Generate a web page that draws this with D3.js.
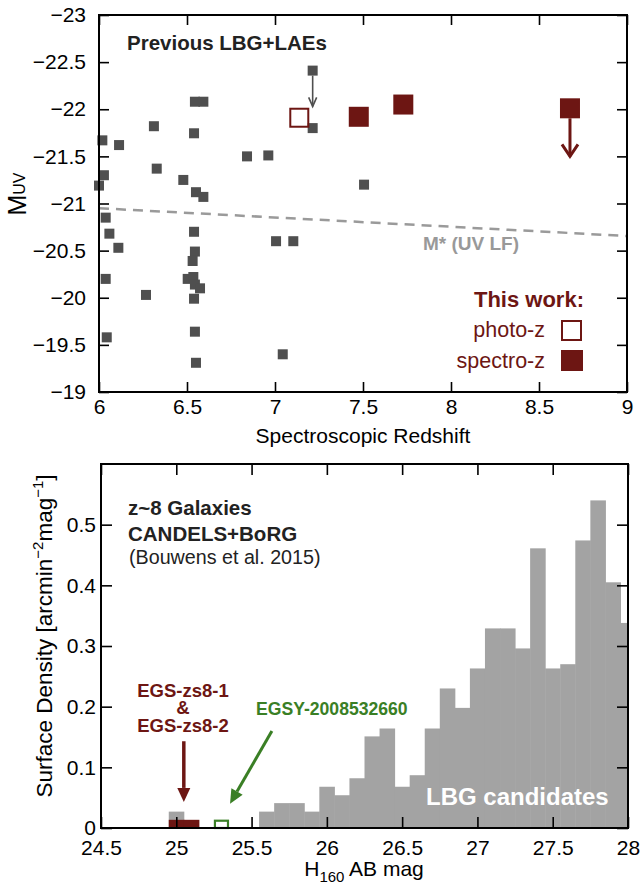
<!DOCTYPE html>
<html>
<head>
<meta charset="utf-8">
<script src="https://cdn.jsdelivr.net/npm/d3@7"></script>
<style>
  body { margin: 0; background: #fff; }
  svg text { font-family: "Liberation Sans", Arial, Helvetica, sans-serif; }
</style>
</head>
<body>
<svg id="chart" width="641" height="886"></svg>
<script>
// ---- top panel data: previous LBG + LAEs
var prevZ = [6.545, 6.593, 7.214, 6.312, 6.540, 6.019, 6.114, 6.841, 6.962, 6.328,
             6.028, 6.479, 6.000, 6.551, 6.593, 7.506, 6.038, 6.059, 6.110, 6.038,
             6.044, 6.267, 6.540, 6.545, 6.532, 6.504, 6.536, 6.545, 6.574, 6.540,
             6.545, 6.551, 7.006, 7.104, 7.044, 7.214];
var prevM = [-22.08, -22.08, -21.80, -21.82, -21.745, -21.67, -21.62, -21.50, -21.51, -21.37,
             -21.30, -21.25, -21.19, -21.12, -21.07, -21.20, -20.85, -20.68, -20.53, -20.20,
             -19.58, -20.03, -20.70, -20.49, -20.39, -20.20, -20.22, -20.14, -20.10, -19.99,
             -19.64, -19.31, -20.60, -20.60, -19.40, -22.41];
// upper limit (arrow) for previous object
var prevLimZ = [7.214], prevLimFrom = [-22.41], prevLimTo = [-22.03];

// this work
var photoZ = [7.138], photoM = [-21.91];
var specZ = [7.476, 7.729, 8.676], specM = [-21.92, -22.05, -22.01];
var specLimZ = [8.676], specLimFrom = [-22.01], specLimTo = [-21.50];

// characteristic magnitude of UV LF
var mStarZ = [6, 9], mStarM = [-20.95, -20.655];

var topXTicks = [6, 6.5, 7, 7.5, 8, 8.5, 9];
var topYTicks = [-23, -22.5, -22, -21.5, -21, -20.5, -20, -19.5, -19];

// ---- bottom panel data: z~8 surface density histogram (bin centres, 0.1 mag)
var histMag = [25.0, 25.6, 25.7, 25.8, 25.9, 26.0, 26.1, 26.2, 26.3, 26.4, 26.5, 26.6, 26.7,
               26.8, 26.9, 27.0, 27.1, 27.2, 27.3, 27.4, 27.5, 27.6, 27.7, 27.8, 27.9, 28.0];
var histDens = [0.027, 0.027, 0.041, 0.041, 0.027, 0.068, 0.054, 0.082, 0.151, 0.164, 0.068, 0.087, 0.164,
                0.230, 0.198, 0.263, 0.329, 0.329, 0.296, 0.461, 0.263, 0.270, 0.474, 0.540, 0.405, 0.338];
var egsMag = [25.0, 25.1], egsDens = [0.0135, 0.0135];
var egsyMag = [25.3], egsyDens = [0.012];
var binW = 0.1;

var botXTicks = [24.5, 25, 25.5, 26, 26.5, 27, 27.5, 28];
var botYTicks = [0, 0.1, 0.2, 0.3, 0.4, 0.5];

var red = "#6d1613", green = "#3a7f25", gray = "#4f4f4f", histGray = "#a3a3a3";
var svg = d3.select("#chart");

function fmtMinus(d) { return (d < 0 ? "\u2212" : "") + Math.abs(d); }

// arrow: shaft + head, in pixel coords
function arrow(g, xa, ya, xb, yb, color, w, hl, hw, filled) {
    var a = Math.atan2(yb - ya, xb - xa);
    var bx = xb - hl * Math.cos(a), by = yb - hl * Math.sin(a);
    var px = -Math.sin(a) * hw, py = Math.cos(a) * hw;
    g.append("line").attr("x1", xa).attr("y1", ya)
        .attr("x2", filled ? bx : xb).attr("y2", filled ? by : yb)
        .attr("stroke", color).attr("stroke-width", w);
    if (filled) {
        g.append("path")
            .attr("d", "M" + xb + "," + yb + "L" + (bx + px) + "," + (by + py) + "L" + (bx - px) + "," + (by - py) + "Z")
            .attr("fill", color);
    } else {
        g.append("path")
            .attr("d", "M" + (bx + px) + "," + (by + py) + "L" + xb + "," + yb + "L" + (bx - px) + "," + (by - py))
            .attr("fill", "none").attr("stroke", color).attr("stroke-width", w);
    }
}

function inAxis(g, axis, tr) { return g.append("g").attr("transform", tr).call(axis); }

// ================= TOP PANEL =================
var xTop = d3.scaleLinear().domain([6, 9]).range([99, 627]);
var yTop = d3.scaleLinear().domain([-23, -19]).range([15, 392]);
var topG = svg.append("g");

// M* dashed line
topG.append("path")
    .attr("d", d3.line().x(function(d) { return xTop(d[0]); }).y(function(d) { return yTop(d[1]); })(d3.zip(mStarZ, mStarM)))
    .attr("fill", "none").attr("stroke", "#9a9a9a").attr("stroke-width", 2.5)
    .attr("stroke-dasharray", "10,7");
topG.append("text").attr("x", 423).attr("y", 250)
    .attr("font-size", 19).attr("font-weight", "bold").attr("fill", "#999")
    .text("M* (UV LF)");

// previous objects
var gs = 10;
topG.selectAll("rect.prev").data(d3.zip(prevZ, prevM)).enter().append("rect")
    .attr("x", function(d) { return xTop(d[0]) - gs / 2; })
    .attr("y", function(d) { return yTop(d[1]) - gs / 2; })
    .attr("width", gs).attr("height", gs).attr("fill", gray);
prevLimZ.forEach(function(z, i) {
    arrow(topG, xTop(z), yTop(prevLimFrom[i]) + gs / 2, xTop(z), yTop(prevLimTo[i]), gray, 1.6, 9, 4, false);
});

// this work
var rs = 20;
topG.selectAll("rect.photo").data(d3.zip(photoZ, photoM)).enter().append("rect")
    .attr("x", function(d) { return xTop(d[0]) - 9; })
    .attr("y", function(d) { return yTop(d[1]) - 9; })
    .attr("width", 18).attr("height", 18)
    .attr("fill", "none").attr("stroke", red).attr("stroke-width", 2);
topG.selectAll("rect.spec").data(d3.zip(specZ, specM)).enter().append("rect")
    .attr("x", function(d) { return xTop(d[0]) - rs / 2; })
    .attr("y", function(d) { return yTop(d[1]) - rs / 2; })
    .attr("width", rs).attr("height", rs).attr("fill", red);
specLimZ.forEach(function(z, i) {
    arrow(topG, xTop(z), yTop(specLimFrom[i]) + rs / 2, xTop(z), yTop(specLimTo[i]), red, 3, 12, 8, false);
});

// axes (ticks inward)
inAxis(topG, d3.axisBottom(xTop).tickValues(topXTicks).tickSizeInner(-10).tickSizeOuter(0).tickPadding(7).tickFormat(d3.format("")), "translate(0,392)");
inAxis(topG, d3.axisTop(xTop).tickValues(topXTicks).tickSizeInner(-10).tickSizeOuter(0).tickFormat(""), "translate(0,15)");
inAxis(topG, d3.axisLeft(yTop).tickValues(topYTicks).tickSizeInner(-10).tickSizeOuter(0).tickPadding(13).tickFormat(fmtMinus), "translate(99,0)");
inAxis(topG, d3.axisRight(yTop).tickValues(topYTicks).tickSizeInner(-10).tickSizeOuter(0).tickFormat(""), "translate(627,0)");
topG.append("rect").attr("x", 99).attr("y", 15).attr("width", 528).attr("height", 377)
    .attr("fill", "none").attr("stroke", "#000").attr("stroke-width", 2);

topG.append("text").attr("x", 363).attr("y", 443).attr("text-anchor", "middle")
    .attr("font-size", 21).text("Spectroscopic Redshift");
var ml = topG.append("text").attr("transform", "translate(26,194) rotate(-90)")
    .attr("text-anchor", "middle").attr("font-size", 25);
ml.append("tspan").text("M");
ml.append("tspan").attr("font-size", 16).attr("dy", -1).text("UV");

topG.append("text").attr("x", 127).attr("y", 50).attr("font-size", 20.5)
    .attr("font-weight", "bold").attr("fill", "#222").text("Previous LBG+LAEs");

// legend
topG.append("text").attr("x", 584).attr("y", 307).attr("text-anchor", "end")
    .attr("font-size", 22).attr("font-weight", "bold").attr("fill", red).text("This work:");
topG.append("text").attr("x", 545).attr("y", 337).attr("text-anchor", "end")
    .attr("font-size", 21.5).attr("fill", red).text("photo-z");
topG.append("text").attr("x", 545).attr("y", 368).attr("text-anchor", "end")
    .attr("font-size", 21.5).attr("fill", red).text("spectro-z");
topG.append("rect").attr("x", 562).attr("y", 321).attr("width", 19).attr("height", 19)
    .attr("fill", "none").attr("stroke", red).attr("stroke-width", 2);
topG.append("rect").attr("x", 561).attr("y", 350).attr("width", 22).attr("height", 21).attr("fill", red);

// ================= BOTTOM PANEL =================
var xBot = d3.scaleLinear().domain([24.5, 28]).range([101, 628]);
var yBot = d3.scaleLinear().domain([0, 0.6]).range([828, 464]);
var botG = svg.append("g");

function binX0(m) { return xBot(Math.max(24.5, m - binW / 2)); }
function binX1(m) { return xBot(Math.min(28, m + binW / 2)); }

botG.selectAll("rect.hist").data(d3.zip(histMag, histDens)).enter().append("rect")
    .attr("x", function(d) { return binX0(d[0]); })
    .attr("y", function(d) { return yBot(d[1]); })
    .attr("width", function(d) { return binX1(d[0]) - binX0(d[0]) + 0.5; })
    .attr("height", function(d) { return yBot(0) - yBot(d[1]); })
    .attr("fill", histGray);
botG.selectAll("rect.egs").data(d3.zip(egsMag, egsDens)).enter().append("rect")
    .attr("x", function(d) { return binX0(d[0]); })
    .attr("y", function(d) { return yBot(d[1]); })
    .attr("width", function(d) { return binX1(d[0]) - binX0(d[0]) + 0.5; })
    .attr("height", function(d) { return yBot(0) - yBot(d[1]); })
    .attr("fill", red);
botG.selectAll("rect.egsy").data(d3.zip(egsyMag, egsyDens)).enter().append("rect")
    .attr("x", function(d) { return binX0(d[0]) + 1; })
    .attr("y", function(d) { return yBot(d[1]); })
    .attr("width", function(d) { return binX1(d[0]) - binX0(d[0]) - 2; })
    .attr("height", function(d) { return yBot(0) - yBot(d[1]); })
    .attr("fill", "none").attr("stroke", green).attr("stroke-width", 2.2);

inAxis(botG, d3.axisBottom(xBot).tickValues(botXTicks).tickSizeInner(-11).tickSizeOuter(0).tickPadding(12).tickFormat(d3.format("")), "translate(0,828)");
inAxis(botG, d3.axisTop(xBot).tickValues(botXTicks).tickSizeInner(-11).tickSizeOuter(0).tickFormat(""), "translate(0,464)");
inAxis(botG, d3.axisLeft(yBot).tickValues(botYTicks).tickSizeInner(-11).tickSizeOuter(0).tickPadding(5).tickFormat(d3.format("")), "translate(101,0)");
inAxis(botG, d3.axisRight(yBot).tickValues(botYTicks).tickSizeInner(-11).tickSizeOuter(0).tickFormat(""), "translate(628,0)");
botG.append("rect").attr("x", 101).attr("y", 464).attr("width", 527).attr("height", 364)
    .attr("fill", "none").attr("stroke", "#000").attr("stroke-width", 2);

// arrows to the EGS objects
arrow(botG, xBot(25.05), yBot(0.143), xBot(25.05), yBot(0.043), red, 3.5, 14, 6.5, true);
arrow(botG, xBot(25.635), yBot(0.160), xBot(25.357), yBot(0.040), green, 3, 14, 6.5, true);

botG.append("text").attr("x", 128).attr("y", 515).attr("font-size", 20.5)
    .attr("font-weight", "bold").attr("fill", "#222").text("z~8 Galaxies");
botG.append("text").attr("x", 128).attr("y", 541).attr("font-size", 20.5)
    .attr("font-weight", "bold").attr("fill", "#222").text("CANDELS+BoRG");
botG.append("text").attr("x", 129).attr("y", 564).attr("font-size", 19.7)
    .attr("fill", "#222").text("(Bouwens et al. 2015)");

[["EGS-zs8-1", 697], ["&", 714], ["EGS-zs8-2", 732]].forEach(function(t) {
    botG.append("text").attr("x", 183).attr("y", t[1]).attr("text-anchor", "middle")
        .attr("font-size", 18.5).attr("font-weight", "bold").attr("fill", red).text(t[0]);
});
botG.append("text").attr("x", 256).attr("y", 715).attr("font-size", 17.6)
    .attr("font-weight", "bold").attr("fill", green).text("EGSY-2008532660");
botG.append("text").attr("x", 426).attr("y", 805).attr("font-size", 24)
    .attr("font-weight", "bold").attr("fill", "#fff").text("LBG candidates");

var xl = botG.append("text").attr("x", 364).attr("y", 876).attr("text-anchor", "middle").attr("font-size", 21);
xl.append("tspan").text("H");
xl.append("tspan").attr("font-size", 15).attr("dy", 6).text("160");
xl.append("tspan").attr("dy", -6).text(" AB mag");

var yl = botG.append("text").attr("transform", "translate(52,636) rotate(-90)")
    .attr("text-anchor", "middle").attr("font-size", 22.5);
yl.append("tspan").text("Surface Density [arcmin");
yl.append("tspan").attr("font-size", 15).attr("dy", -9).text("\u22122");
yl.append("tspan").attr("dy", 9).text("mag");
yl.append("tspan").attr("font-size", 15).attr("dy", -9).text("\u22121");
yl.append("tspan").attr("dy", 9).text("]");

// tick label styling
svg.selectAll(".tick text").attr("font-size", 21).attr("fill", "#000")
    .attr("font-family", "'Liberation Sans', Arial, Helvetica, sans-serif");
svg.selectAll(".tick line").attr("stroke-width", 1.6);
svg.selectAll(".domain").remove();
</script>
</body>
</html>
